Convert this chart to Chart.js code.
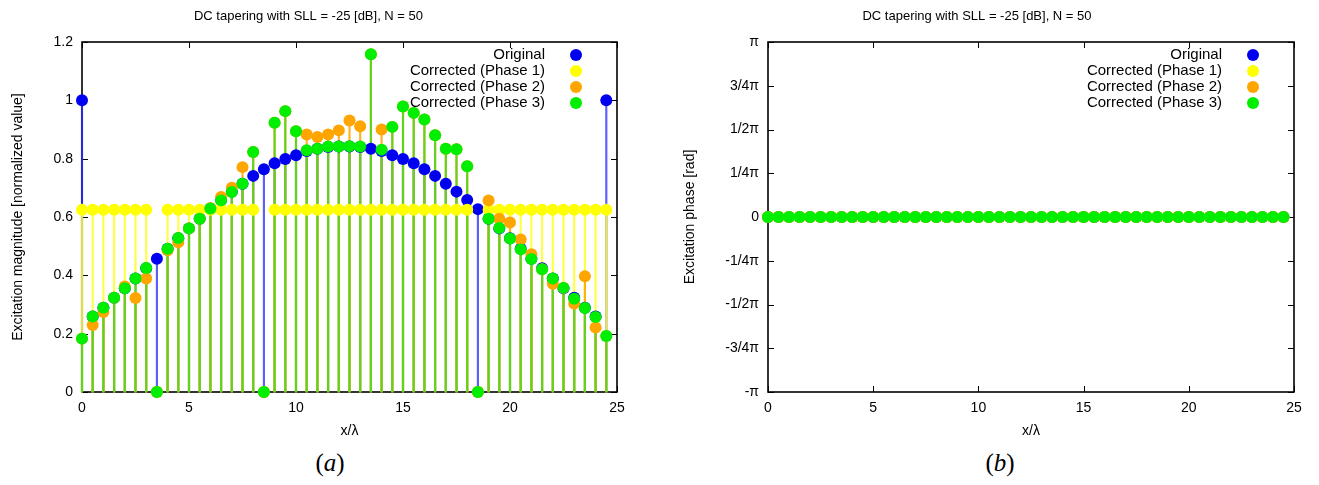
<!DOCTYPE html>
<html>
<head>
<meta charset="utf-8">
<script src="https://cdn.jsdelivr.net/npm/chart.js"></script>
<style>
  body { margin: 0; background: #fff; width: 1319px; height: 485px; position: relative; overflow: hidden; }
  .panel { position: absolute; top: 0; height: 444px; }
  #wrapA { left: 0; width: 660px; }
  #wrapB { left: 660px; width: 659px; }
  .cap { position: absolute; top: 449px; width: 80px; text-align: center; font-family: "Liberation Serif", "DejaVu Serif", serif; font-size: 25px; }
</style>
</head>
<body>
<div class="panel" id="wrapA"><canvas id="chartA" width="660" height="444"></canvas></div>
<div class="panel" id="wrapB"><canvas id="chartB" width="659" height="444"></canvas></div>
<div class="cap" style="left:290px">(<i>a</i>)</div>
<div class="cap" style="left:960px">(<i>b</i>)</div>
<script>
// element positions x/lambda
const positions = [0, 0.5, 1, 1.5, 2, 2.5, 3, 3.5, 4, 4.5, 5, 5.5, 6, 6.5, 7, 7.5, 8, 8.5, 9, 9.5,
  10, 10.5, 11, 11.5, 12, 12.5, 13, 13.5, 14, 14.5, 15, 15.5, 16, 16.5, 17, 17.5, 18, 18.5, 19, 19.5,
  20, 20.5, 21, 21.5, 22, 22.5, 23, 23.5, 24, 24.5];

// magnitudes (normalized)
const original = [1.0, 0.259, 0.289, 0.323, 0.356, 0.389, 0.424, 0.457, 0.491, 0.527,
  0.561, 0.594, 0.627, 0.658, 0.687, 0.714, 0.741, 0.764, 0.784, 0.799,
  0.812, 0.826, 0.834, 0.840, 0.842, 0.842, 0.840, 0.834, 0.826, 0.812,
  0.799, 0.784, 0.764, 0.741, 0.714, 0.687, 0.658, 0.627, 0.594, 0.561,
  0.527, 0.491, 0.457, 0.424, 0.389, 0.356, 0.323, 0.289, 0.259, 1.0];
const phase1 = [0.625, 0.625, 0.625, 0.625, 0.625, 0.625, 0.625, 0, 0.625, 0.625,
  0.625, 0.625, 0.625, 0.625, 0.625, 0.625, 0.625, 0, 0.625, 0.625,
  0.625, 0.625, 0.625, 0.625, 0.625, 0.625, 0.625, 0.625, 0.625, 0.625,
  0.625, 0.625, 0.625, 0.625, 0.625, 0.625, 0.625, 0, 0.625, 0.625,
  0.625, 0.625, 0.625, 0.625, 0.625, 0.625, 0.625, 0.625, 0.625, 0.625];
const phase2 = [0.183, 0.230, 0.274, 0.323, 0.362, 0.322, 0.389, 0, 0.486, 0.513,
  0.561, 0.594, 0.631, 0.669, 0.700, 0.771, 0.823, 0, 0.923, 0.963,
  0.894, 0.883, 0.874, 0.883, 0.897, 0.931, 0.911, 1.158, 0.900, 0.909,
  0.979, 0.957, 0.934, 0.880, 0.834, 0.832, 0.774, 0, 0.657, 0.594,
  0.581, 0.523, 0.472, 0.421, 0.371, 0.357, 0.303, 0.397, 0.221, 0.192];
const phase3 = [0.183, 0.259, 0.289, 0.323, 0.356, 0.389, 0.425, 0, 0.491, 0.528,
  0.561, 0.594, 0.629, 0.657, 0.686, 0.714, 0.823, 0, 0.923, 0.963,
  0.894, 0.829, 0.834, 0.842, 0.842, 0.843, 0.842, 1.158, 0.831, 0.909,
  0.979, 0.957, 0.934, 0.880, 0.834, 0.832, 0.774, 0, 0.594, 0.562,
  0.526, 0.489, 0.456, 0.421, 0.389, 0.357, 0.320, 0.288, 0.257, 0.192];

// excitation phases [rad], same for every series
const phaseRad = [0, 0, 0, 0, 0, 0, 0, 0, 0, 0, 0, 0, 0, 0, 0, 0, 0, 0, 0, 0, 0, 0, 0, 0, 0,
  0, 0, 0, 0, 0, 0, 0, 0, 0, 0, 0, 0, 0, 0, 0, 0, 0, 0, 0, 0, 0, 0, 0, 0, 0];

const seriesNames = ['Original', 'Corrected (Phase 1)', 'Corrected (Phase 2)', 'Corrected (Phase 3)'];
const seriesColors = ['#0000f0', '#ffff00', '#ffa500', '#00ee00'];
const stemColors = ['rgba(40,40,255,0.75)', 'rgba(255,255,40,0.85)', 'rgba(255,165,0,0.85)', 'rgba(80,215,30,0.9)'];

const magTicks = [0, 0.2, 0.4, 0.6, 0.8, 1, 1.2];
const phaseTickLabels = ['-π', '-3/4π', '-1/2π', '-1/4π', '0', '1/4π', '1/2π', '3/4π', 'π'];
const phaseTickValues = [-4, -3, -2, -1, 0, 1, 2, 3, 4].map(k => k * Math.PI / 4);

const chartTitle = 'DC tapering with SLL = -25 [dB], N = 50';

Chart.defaults.font.family = '"Liberation Sans", Arial, sans-serif';
Chart.defaults.font.size = 13;
Chart.defaults.color = '#000';

function pairs(ys) {
  return positions.map((x, i) => ({ x: x, y: ys[i] }));
}

// gnuplot style frame with inward ticks on all four sides
const frameTicks = {
  id: 'frameTicks',
  beforeDatasetsDraw(chart) {
    const { ctx, chartArea: a, scales: { x, y } } = chart;
    ctx.save();
    ctx.strokeStyle = '#000';
    ctx.lineWidth = 1;
    ctx.beginPath();
    x.ticks.forEach(t => {
      const px = Math.round(x.getPixelForValue(t.value)) + 0.5;
      ctx.moveTo(px, a.bottom); ctx.lineTo(px, a.bottom - 6);
      ctx.moveTo(px, a.top); ctx.lineTo(px, a.top + 6);
    });
    y.ticks.forEach(t => {
      const py = Math.round(y.getPixelForValue(t.value)) + 0.5;
      ctx.moveTo(a.left, py); ctx.lineTo(a.left + 6, py);
      ctx.moveTo(a.right, py); ctx.lineTo(a.right - 6, py);
    });
    ctx.stroke();
    ctx.lineWidth = 1.6;
    ctx.strokeRect(a.left, a.top, a.right - a.left, a.bottom - a.top);
    ctx.restore();
  }
};

// legend: text right aligned, marker on the right
const sideLegend = {
  id: 'sideLegend',
  beforeDatasetsDraw(chart) {
    const { ctx, chartArea: a } = chart;
    const items = chart.data.datasets.filter(d => d.type === 'scatter');
    ctx.save();
    ctx.font = '15px "Liberation Sans", Arial, sans-serif';
    ctx.textAlign = 'right';
    ctx.textBaseline = 'middle';
    items.forEach((d, i) => {
      const yy = a.top + 13 + 16 * i;
      ctx.fillStyle = '#000';
      ctx.fillText(d.label, a.right - 72, yy);
      ctx.beginPath();
      ctx.arc(a.right - 41, yy, 6, 0, Math.PI * 2);
      ctx.fillStyle = d.backgroundColor;
      ctx.fill();
    });
    ctx.restore();
  }
};

function buildDatasets(seriesList, withStems) {
  const sets = [];
  seriesList.forEach((ys, i) => {
    sets.push({
      type: 'scatter', label: seriesNames[i], data: pairs(ys),
      backgroundColor: seriesColors[i], borderWidth: 0,
      pointRadius: 6, pointHoverRadius: 6, clip: false, order: 3 - i
    });
    if (withStems) {
      sets.push({
        type: 'bar', label: '', data: pairs(ys),
        backgroundColor: stemColors[i], borderWidth: 0,
        barThickness: 1.5, grouped: false, clip: false, order: 7 - i
      });
    }
  });
  return sets;
}

function makeChart(id, cfg) {
  return new Chart(document.getElementById(id), {
    type: 'scatter',
    data: { datasets: cfg.datasets },
    options: {
      responsive: false,
      animation: false,
      events: [],
      layout: { padding: { top: 0, right: cfg.padRight, left: 0, bottom: 0 } },
      plugins: {
        legend: { display: false },
        tooltip: { enabled: false },
        title: {
          display: true, text: chartTitle,
          font: { size: 13, weight: 'normal' },
          padding: { top: 9, bottom: 17.4 }
        }
      },
      scales: {
        x: {
          type: 'linear', min: 0, max: 25, offset: false,
          grid: { display: false, drawTicks: false },
          border: { display: false },
          ticks: { stepSize: 5, padding: 8, font: { size: 14 } },
          title: { display: true, text: 'x/λ', font: { size: 14 }, padding: { top: 0, bottom: 4 } },
          afterFit: s => { s.height = 52; }
        },
        y: {
          type: 'linear', min: cfg.yMin, max: cfg.yMax,
          grid: { display: false, drawTicks: false },
          border: { display: false },
          afterBuildTicks: s => { s.ticks = cfg.tickValues.map(v => ({ value: v })); },
          ticks: { padding: 9, font: { size: 14 }, callback: cfg.tickLabel },
          title: { display: true, text: cfg.yTitle, font: { size: 14 }, padding: { top: cfg.yTitlePad, bottom: 0 } },
          afterFit: s => { s.width = cfg.yWidth; }
        }
      }
    },
    plugins: [frameTicks, sideLegend]
  });
}

makeChart('chartA', {
  datasets: buildDatasets([original, phase1, phase2, phase3], true),
  padRight: 43, yMin: 0, yMax: 1.2, yWidth: 82, yTitlePad: 10,
  tickValues: magTicks,
  tickLabel: v => String(Math.round(v * 10) / 10),
  yTitle: 'Excitation magnitude [normalized value]'
});

makeChart('chartB', {
  datasets: buildDatasets([phaseRad, phaseRad, phaseRad, phaseRad], false),
  padRight: 25, yMin: -Math.PI, yMax: Math.PI, yWidth: 108, yTitlePad: 22,
  tickValues: phaseTickValues,
  tickLabel: (v, i) => phaseTickLabels[i],
  yTitle: 'Excitation phase [rad]'
});
</script>
</body>
</html>
